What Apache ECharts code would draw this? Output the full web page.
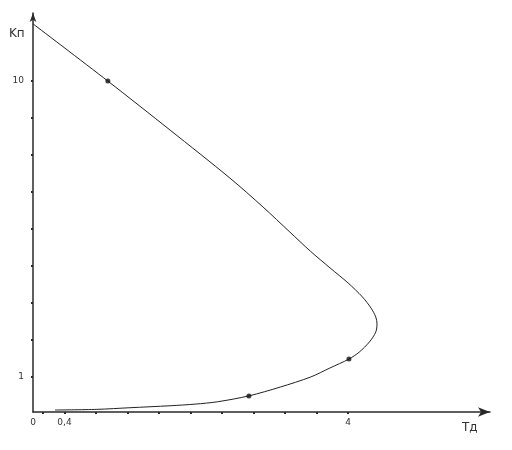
<!DOCTYPE html>
<html>
<head>
<meta charset="utf-8">
<script src="https://cdn.jsdelivr.net/npm/echarts@6/dist/echarts.min.js"></script>
<style>html,body{margin:0;padding:0;background:#fff}#c{width:512px;height:450px}</style>
</head>
<body>
<div id="c"></div>
<script>
// curve Kп(Tд)
var curveT = [0, 0.95, 1.74, 2.50, 2.92, 3.26, 3.52, 3.77, 4.0, 4.18, 4.29, 4.35, 4.366, 4.35, 4.27, 4.14, 4.01, 3.77, 3.52, 3.14, 2.74, 2.34, 2.06, 1.74, 1.23, 0.81, 0.28];
var curveK = [11.74, 10.0, 8.51, 7.05, 6.17, 5.41, 4.83, 4.32, 3.86, 3.44, 3.10, 2.83, 2.62, 2.37, 2.07, 1.76, 1.55, 1.28, 1.0, 0.70, 0.43, 0.25, 0.18, 0.13, 0.07, 0.02, 0.0];
// marked points
var markT = [0.95, 4.01, 2.74];
var markK = [10.0, 1.55, 0.43];
// ticks and tick labels
var xTicks = [0.12, 0.4, 0.8, 1.2, 1.6, 2.0, 2.4, 2.8, 3.2, 3.6, 4.0];
var xLabels = [0, 0.4, 4];
var yTicks = [1, 2.125, 3.25, 4.375, 5.5, 6.625, 7.75, 8.875, 10];
var yLabels = [1, 10];

var curve = curveT.map(function (t, i) { return [t, curveK[i]]; });
var marks = markT.map(function (t, i) { return [t, markK[i]]; });

var chart = echarts.init(document.getElementById('c'));
var axisCol = '#2a2a2a';
var font = 'DejaVu Sans';
chart.setOption({
  animation: false,
  backgroundColor: '#fff',
  grid: { left: 33, right: 22, top: 13, bottom: 38 },
  xAxis: {
    type: 'value', min: 0, max: 5.8,
    axisLine: { show: true, onZero: false, symbol: ['none', 'arrow'], symbolSize: [7, 12], lineStyle: { color: axisCol, width: 1.5 } },
    axisTick: { show: true, customValues: xTicks, length: 2, inside: false, lineStyle: { color: axisCol, width: 2 } },
    axisLabel: { show: true, customValues: xLabels, margin: 6, fontFamily: font, fontSize: 9, color: '#333',
      formatter: function (v) { return String(v).replace('.', ','); } },
    splitLine: { show: false }
  },
  yAxis: {
    type: 'value', min: -0.06, max: 12.07,
    axisLine: { show: true, onZero: false, symbol: ['none', 'arrow'], symbolSize: [5, 9], lineStyle: { color: axisCol, width: 1.5 } },
    axisTick: { show: true, customValues: yTicks, length: 2, lineStyle: { color: axisCol, width: 2 } },
    axisLabel: { show: true, customValues: yLabels, margin: 9, fontFamily: font, fontSize: 9, color: '#333' },
    splitLine: { show: false }
  },
  graphic: [
    { type: 'text', left: 9, top: 28, style: { text: 'Kп', font: '12px "DejaVu Sans"', fill: '#333' } },
    { type: 'text', left: 462, top: 422, style: { text: 'Tд', font: '12px "DejaVu Sans"', fill: '#333' } }
  ],
  series: [
    { type: 'line', data: curve, smooth: 0.3, showSymbol: false, lineStyle: { color: '#222', width: 1 }, z: 3 },
    { type: 'scatter', data: marks, symbol: 'circle', symbolSize: 5, itemStyle: { color: '#111' }, z: 4 }
  ]
});
</script>
</body>
</html>
